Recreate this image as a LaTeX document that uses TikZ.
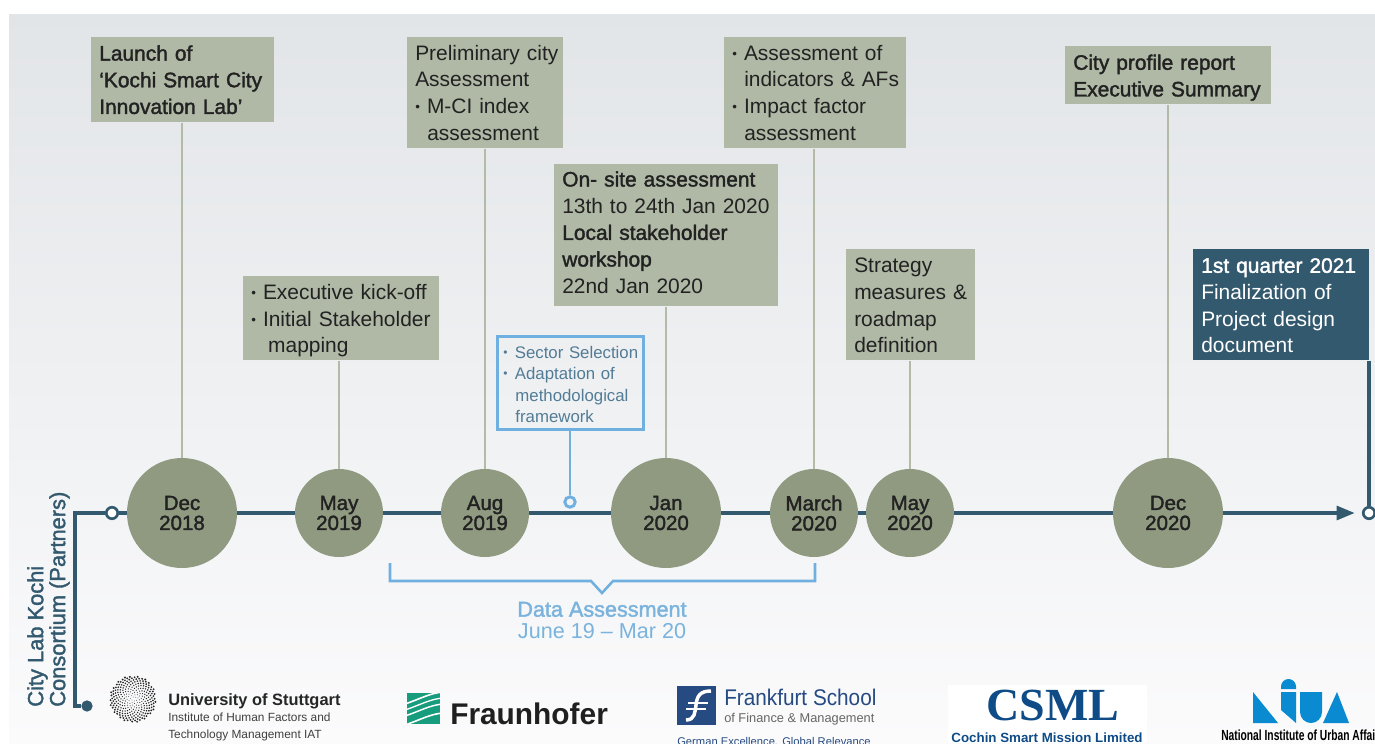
\documentclass[tikz,border=0pt]{standalone}
\usepackage{fontspec}
\usepackage{graphicx}
\setmainfont{Liberation Sans}
\newfontfamily\medfont[FakeBold=1.7]{Liberation Sans}
\usetikzlibrary{arrows.meta,calc}
\definecolor{boxfill}{HTML}{B0B9A6}
\definecolor{circfill}{HTML}{8F9A80}
\definecolor{stem}{HTML}{B3BAA8}
\definecolor{navy}{HTML}{33596F}
\definecolor{sky}{HTML}{6FB0E0}
\definecolor{skytext}{HTML}{7AB3DD}
\definecolor{blueink}{HTML}{527C96}
\definecolor{ink}{HTML}{222222}
\definecolor{bgtop}{HTML}{E2E5E8}
\definecolor{bgbot}{HTML}{FBFBFC}
\definecolor{fhgreen}{HTML}{179C7D}
\definecolor{fsblue}{HTML}{264A82}
\definecolor{csmlblue}{HTML}{0F4C87}
\definecolor{niublue}{HTML}{0A8AD0}
\newcommand{\bul}{{\fontsize{10}{10}\selectfont\raisebox{1.5pt}{•}}\hspace{5.3pt}}
\newcommand{\bbul}{{\fontsize{9}{9}\selectfont\raisebox{1.5pt}{•}}\hspace{5.4pt}}
\newcommand{\ml}[1]{\mbox{{\medfont #1}}}
\newcommand{\rl}[1]{\mbox{#1}}
\tikzset{
  tbox/.style={rectangle,fill=boxfill,text=ink,anchor=north west,align=left,inner xsep=6pt,inner ysep=0pt,
    font=\fontsize{15.7}{20}\selectfont,minimum width=#1*0.75pt,text width=(#1-16)*0.75pt},
  stemline/.style={draw=stem,line width=1.9pt},
  rail/.style={draw=navy,line width=2.3pt},
  datecirc/.style={circle,fill=circfill,text=ink,inner sep=0pt,align=center,
    minimum size=#1*1.5pt,font=\fontsize{15.4}{15}\selectfont\medfont},
  ring/.style={circle,draw=navy,fill=white,line width=2pt,inner sep=0pt,minimum size=8.6pt},
  bluering/.style={circle,draw=sky,fill=none,line width=2.2pt,inner sep=0pt,minimum size=7.8pt},
  logotext/.style={anchor=base west,inner sep=0pt},
}
\begin{document}
\begin{tikzpicture}[x=0.75pt,y=-0.75pt]
\useasboundingbox (0,0) rectangle (1375,743);
\shade[top color=bgtop,bottom color=bgbot] (9,14) rectangle (1375,743);

% circles and markers
\node[datecirc=55] (c1) at (182,513) {Dec\\2018};
\node[datecirc=44] (c2) at (339,513) {May\\2019};
\node[datecirc=44] (c3) at (485,513) {Aug\\2019};
\node[datecirc=55] (c4) at (666,513) {Jan\\2020};
\node[datecirc=44] (c5) at (814,513) {March\\2020};
\node[datecirc=44] (c6) at (910,513) {May\\2020};
\node[datecirc=55] (c7) at (1168,513) {Dec\\2020};
\node[ring] (start) at (112,513) {};
\node[ring] (end) at (1369,513) {};
\node[circle,fill=navy,inner sep=0pt,minimum size=8.5pt] (dot) at (87,706) {};
\node[bluering] (bdot) at (570,502) {};
\coordinate (cornerT) at (75,513);
\coordinate (cornerB) at (75,706);

% boxes
\node[tbox=183,minimum height=85*0.75pt] (b1) at (91,37) {\ml{Launch of}\\\ml{‘Kochi Smart City}\\\ml{Innovation Lab’}};
\node[tbox=196,minimum height=84*0.75pt] (b2) at (243,276) {\rule{0pt}{15pt}\rl{\bul Executive kick-off}\\\rl{\bul Initial Stakeholder}\\\rl{\hspace{12.7pt}mapping}};
\node[tbox=156,minimum height=111*0.75pt] (b3) at (407,37) {\rl{Preliminary city}\\Assessment\\\rl{\bul M-CI index}\\\rl{\hspace{9pt}assessment}};
\node[tbox=224,minimum height=142*0.75pt] (b4) at (554,164) {\ml{On- site assessment}\\\rl{13th to 24th Jan 2020}\\\ml{Local stakeholder}\\\ml{workshop}\\22nd Jan 2020\rule[-4.5pt]{0pt}{0pt}};
\node[tbox=182,minimum height=111*0.75pt] (b5) at (724,37) {\rl{\bul Assessment of}\\\rl{\hspace{9pt}indicators \& AFs}\\\rl{\bul Impact factor}\\\rl{\hspace{9pt}assessment}};
\node[tbox=129,minimum height=111*0.75pt] (b6) at (846,249) {\rule{0pt}{12.2pt}Strategy\\\rl{measures \&}\\roadmap\\definition};
\node[tbox=206,minimum height=58*0.75pt] (b7) at (1065,46) {\rule{0pt}{15pt}\ml{City profile report}\\\ml{Executive Summary}};
\node[tbox=176,minimum height=111*0.75pt,fill=navy,text=white] (b8) at (1193,249) {\rule{0pt}{12.2pt}\ml{1st quarter 2021}\\\rl{Finalization of}\\\rl{Project design}\\document};
\node[rectangle,draw=sky,line width=2.2pt,anchor=north west,align=left,text=blueink,inner xsep=4.5pt,inner ysep=0pt,
  font=\fontsize{12.6}{16.2}\selectfont,minimum height=93*0.75pt,text width=(146-12)*0.75pt] (bb) at (496,335)
  {\rule{0pt}{11.5pt}\rl{\bbul Sector Selection}\\\rl{\bbul Adaptation of}\\\rl{\hspace{9pt}methodological}\\\rl{\hspace{9pt}framework}};

% stems
\draw[stemline] (c1 |- b1.south) -- (c1);
\draw[stemline] (c2 |- b2.south) -- (c2);
\draw[stemline] (c3 |- b3.south) -- (c3);
\draw[stemline] (c4 |- b4.south) -- (c4);
\draw[stemline] (c5 |- b5.south) -- (c5);
\draw[stemline] (c6 |- b6.south) -- (c6);
\draw[stemline] (c7 |- b7.south) -- (c7);
\draw[draw=sky,line width=2.2pt] (bdot |- bb.south) -- (bdot);
\draw[rail] (end |- b8.south) -- (end);

% main line
\draw[rail] (start) -- (c1);
\draw[rail] (c1) -- (c2);
\draw[rail] (c2) -- (c3);
\draw[rail] (c3) -- (c4);
\draw[rail] (c4) -- (c5);
\draw[rail] (c5) -- (c6);
\draw[rail] (c6) -- (c7);
\draw[rail,-{Triangle[length=13.5pt,width=10.5pt]},shorten >=5.5pt] (c7) -- (end);
\draw[rail] (start) -- (cornerT) -- (cornerB) -- (dot);

% rotated label
\node[rotate=90,anchor=west,align=left,text=navy,inner sep=0pt,font=\fontsize{16.4}{16.5}\selectfont\medfont] (plabel) at (48.5,707) {City Lab Kochi\\Consortium (Partners)};

% bracket
\coordinate (brL) at (390,563);
\coordinate (brR) at (815,563);
\node[text=skytext,inner sep=0pt,align=center,font=\fontsize{16.2}{16}\selectfont] (dlabel) at (602,620) {{\medfont Data Assessment}\\June 19 – Mar 20};
\draw[draw=sky,line width=1.9pt] (brL) -- (390,581) -- (591,581) -- (602,593) -- (613,581) -- (815,581) -- (brR);

% Stuttgart logo
\foreach \i in {1,...,265}{
  \pgfmathsetmacro{\rr}{1.42*sqrt(\i)}
  \pgfmathsetmacro{\aa}{137.508*mod(\i,100)+70.8*floor(\i/100)}
  \pgfmathsetmacro{\ds}{0.3+0.75*\rr/23}
  \fill[black!85] ($(133,699)+(\aa:\rr)$) circle[radius=\ds];
}
\node[logotext,font=\fontsize{12.3}{12}\selectfont\bfseries,text=black!85] (s1) at (168,705) {University of Stuttgart};
\node[logotext,font=\fontsize{8.9}{9}\selectfont,text=black!75] (s2) at (168,721) {Institute of Human Factors and};
\node[logotext,font=\fontsize{8.9}{9}\selectfont,text=black!75] (s3) at (168,738) {Technology Management IAT};

% Fraunhofer logo
\fill[fhgreen] (407,693) rectangle (440,724);
\begin{scope}
\clip (407,693) rectangle (440,724);
\foreach \yy/\cc in {701/1.2,707/1.0,713/1.1,722/1.2}{
  \draw[white,line width=\cc pt] (405,\yy+3) .. controls (420,\yy-2) and (430,\yy-8) .. (443,\yy-9);
}
\end{scope}
\node[logotext,font=\fontsize{22.4}{23}\selectfont\bfseries,text=black!88] (f1) at (450,724) {Fraunhofer};

% Frankfurt School logo
\fill[fsblue] (677,686) rectangle (716,725);
\draw[white,line width=2.6pt] (686,720) .. controls (695,720) and (695,712) .. (696,705) .. controls (697,696) and (700,691) .. (711,691);
\draw[white,line width=1.6pt] (688,703) -- (708,703) (686,709) -- (706,709);
\node[logotext,font=\fontsize{17}{17}\selectfont,text=fsblue] (k1) at (724,705) {\scalebox{0.915}[1]{Frankfurt School}};
\node[logotext,font=\fontsize{9.6}{10}\selectfont,text=black!60] (k2) at (724,722) {of Finance \& Management};
\node[logotext,font=\fontsize{8.4}{9}\selectfont,text=fsblue] (k3) at (677,745) {German Excellence. Global Relevance};

% CSML logo
\fill[white] (948,685) rectangle (1147,743);
\node[anchor=base,inner sep=0pt,font=\fontsize{34.5}{36}\selectfont\bfseries\fontspec{Liberation Serif},text=csmlblue] (m1) at (1053,720) {CSML};
\node[anchor=base,inner sep=0pt,font=\fontsize{10}{10}\selectfont\bfseries,text=csmlblue] (m2) at (1047,742) {Cochin Smart Mission Limited};

% NIUA logo
\fill[niublue] (1253,692) -- (1278,723) -- (1253,723) -- cycle;
\fill[niublue] (1281,689) -- (1281,686.5) arc[start angle=180,end angle=360,radius=7.5] -- (1296,689) -- cycle;
\fill[niublue] (1281,692) -- (1296,692) -- (1296,723) -- (1281,710) -- cycle;
\fill[niublue] (1300,692) -- (1322,692) -- (1322,712) arc[start angle=0,end angle=180,radius=11] -- cycle;
\fill[niublue] (1337,692) -- (1349,723) -- (1323,723) -- cycle;
\node[logotext,text=black] (n1) at (1221,740) {\scalebox{0.7}[1]{\fontsize{11}{11}\selectfont\bfseries National Institute of Urban Affai}};
\end{tikzpicture}
\end{document}
